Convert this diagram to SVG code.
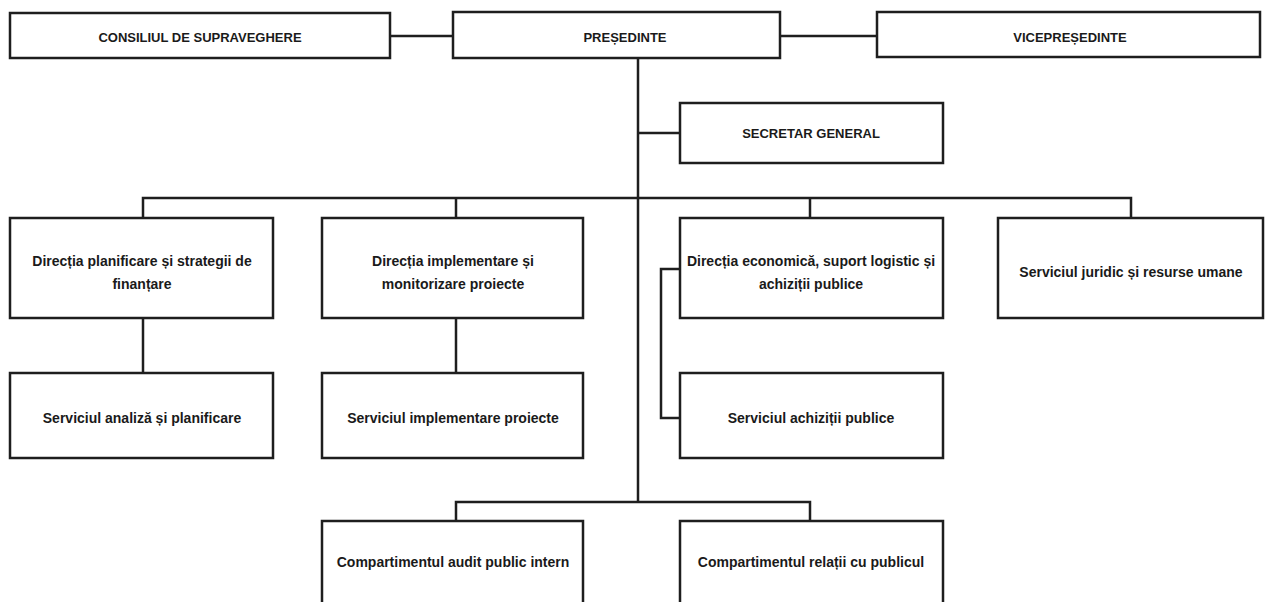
<svg xmlns="http://www.w3.org/2000/svg" width="1266" height="602" viewBox="0 0 1266 602">
<style>
.box{fill:#fff;stroke:#1e1e1e;stroke-width:2.5}
.ln{fill:none;stroke:#1e1e1e;stroke-width:2.5}
text{font-family:"Liberation Sans",Arial,sans-serif;font-weight:bold;font-size:14px;fill:#1a1a1a;text-anchor:middle}
.cap{font-size:13px}
</style>
<rect width="1266" height="602" fill="#fff"/>
<g id="connectors">
<path class="ln" d="M390 36H453"/>
<path class="ln" d="M780 36H877"/>
<path class="ln" d="M638 58V502"/>
<path class="ln" d="M638 133H680"/>
<path class="ln" d="M143 218V198H1131V218"/>
<path class="ln" d="M456 198V218"/>
<path class="ln" d="M810 198V218"/>
<path class="ln" d="M143 318V373"/>
<path class="ln" d="M456 318V373"/>
<path class="ln" d="M680 269H661V418H680"/>
<path class="ln" d="M456 521V502H810V521"/>
</g>
<g id="consiliul"><rect class="box" x="10" y="13" width="380" height="45"/><text class="cap" x="200" y="42">CONSILIUL DE SUPRAVEGHERE</text></g>
<g id="presedinte"><rect class="box" x="453" y="12" width="327" height="46"/><text class="cap" x="625" y="42">PREȘEDINTE</text></g>
<g id="vicepresedinte"><rect class="box" x="877" y="12" width="383" height="45"/><text class="cap" x="1070" y="42">VICEPREȘEDINTE</text></g>
<g id="secretar"><rect class="box" x="680" y="103" width="263" height="60"/><text class="cap" x="811" y="138">SECRETAR GENERAL</text></g>
<g id="dir-planificare"><rect class="box" x="10" y="218" width="263" height="100"/><text x="142" y="266">Direcția planificare și strategii de</text><text x="142" y="289">finanțare</text></g>
<g id="dir-implementare"><rect class="box" x="322" y="218" width="261" height="100"/><text x="453" y="266">Direcția implementare și</text><text x="453" y="289">monitorizare proiecte</text></g>
<g id="dir-economica"><rect class="box" x="680" y="218" width="263" height="100"/><text x="811" y="266">Direcția economică, suport logistic și</text><text x="811" y="289">achiziții publice</text></g>
<g id="serv-juridic"><rect class="box" x="998" y="218" width="265" height="100"/><text x="1131" y="277">Serviciul juridic și resurse umane</text></g>
<g id="serv-analiza"><rect class="box" x="10" y="373" width="263" height="85"/><text x="142" y="423">Serviciul analiză și planificare</text></g>
<g id="serv-implementare"><rect class="box" x="322" y="373" width="261" height="85"/><text x="453" y="423">Serviciul implementare proiecte</text></g>
<g id="serv-achizitii"><rect class="box" x="680" y="373" width="263" height="85"/><text x="811" y="423">Serviciul achiziții publice</text></g>
<g id="comp-audit"><rect class="box" x="322" y="521" width="261" height="90"/><text x="453" y="567">Compartimentul audit public intern</text></g>
<g id="comp-relatii"><rect class="box" x="680" y="521" width="263" height="90"/><text x="811" y="567">Compartimentul relații cu publicul</text></g>
</svg>
